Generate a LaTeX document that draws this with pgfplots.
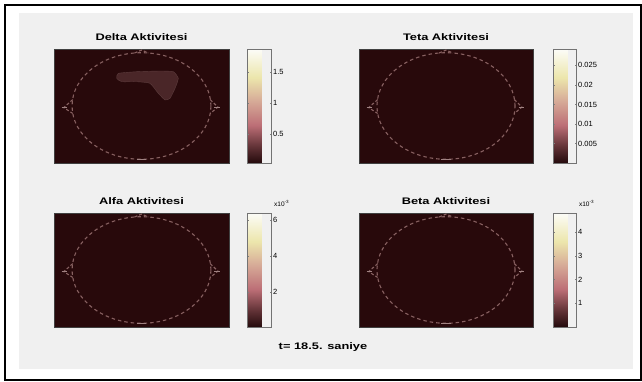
\documentclass[border=0pt]{standalone}
\usepackage{pgfplots}
\pgfplotsset{compat=1.18}
\usepackage{fontspec}
\setmainfont{Liberation Sans}
\newfontfamily\titlefont[FakeStretch=1.35]{Liberation Sans}
\definecolor{figbg}{RGB}{240,240,240}
\definecolor{mapbg}{RGB}{40,9,11}
\definecolor{headc}{RGB}{135,96,96}
\definecolor{headl}{RGB}{160,130,130}
\definecolor{blobc}{RGB}{74,38,40}
\pgfplotsset{
  colormap={pinkmap}{rgb255(0cm)=(36,10,12); rgb255(15cm)=(100,52,56); rgb255(33cm)=(188,110,118); rgb255(55cm)=(215,172,152); rgb255(75cm)=(236,230,172); rgb255(100cm)=(252,252,248)},
  topo/.style={
    scale only axis, height=114pt, anchor=north west,
    xmin=-1.26, xmax=1.26, ymin=-1.07, ymax=1.07,
    ticks=none,
    axis line style={draw=black!75, line width=0.5pt},
    axis background/.style={fill=mapbg},
    title style={font=\titlefont\bfseries\fontsize{9.5}{10}\selectfont, yshift=-1pt},
    colormap name=pinkmap,
    colorbar,
    colorbar style={
      at={(parent axis.north east)}, anchor=north west,
      scale only axis, height=114pt,
      scaled y ticks=false,
      major tick length=1.5pt, tick align=inside,
      tick style={draw=black!50, line width=0.3pt},
      axis line style={draw=black!55, line width=0.7pt},
      yticklabel style={font=\fontsize{7.5}{8}\selectfont, inner sep=1.5pt},
    },
  },
  expo/.style={colorbar style={extra description/.code={
      \node[anchor=base west, inner sep=0pt, font=\fontsize{6.5}{7}\selectfont] at (1.1,1.06) {x10\textsuperscript{-3}};}}},
}
\newcommand{\headoutline}{%
  \draw[headc, line width=1.1pt, dash pattern=on 3.5pt off 3pt] (axis cs:0,0) ellipse [x radius=1, y radius=1];
  \draw[headc, line width=1.1pt, dash pattern=on 3pt off 2pt] (axis cs:-0.1,0.995) -- (axis cs:0,1.05) -- (axis cs:0.1,0.995);
  \draw[headc, line width=1.1pt, dash pattern=on 3pt off 2pt] (axis cs:-0.99,0.12) -- (axis cs:-1.12,-0.03) -- (axis cs:-0.99,-0.14);
  \draw[headc, line width=1.1pt, dash pattern=on 3pt off 2pt] (axis cs:0.99,0.12) -- (axis cs:1.1,-0.02) -- (axis cs:0.99,-0.14);
  \draw[headl, line width=1.2pt] (axis cs:-0.07,-1.0) -- (axis cs:0.07,-1.0);
  \draw[headl, line width=1pt] (axis cs:-1.15,-0.03) -- (axis cs:-1.07,-0.03);
  \draw[headl, line width=1pt] (axis cs:1.05,-0.02) -- (axis cs:1.13,-0.02);
}
\begin{document}
\begin{tikzpicture}[x=1pt,y=1pt]
\fill[white] (0,0) rectangle (642,-381);
\fill[figbg] (19,-13) rectangle (633,-369);
\draw[line width=2pt] (5,-380) -- (5,-5) -- (640.5,-5) -- (640.5,-380) -- cycle;

% Delta
\begin{axis}[topo, at={(54pt,-49pt)}, width=175pt,
  title={Delta Aktivitesi},
  point meta min=0.03, point meta max=1.87,
  colorbar style={xshift=10pt, width=24pt, ytick={0.5,1,1.5}, yticklabels={0.5,1,1.5}}]
\addplot[fill=blobc, draw=blobc!90!white, line width=0.4pt, smooth cycle, tension=0.3] coordinates {
 (-0.334,0.613) (-0.069,0.644) (0.267,0.657) (0.458,0.644) (0.530,0.520)
 (0.483,0.332) (0.411,0.145) (0.339,0.113) (0.242,0.238) (0.122,0.426)
 (-0.069,0.456) (-0.285,0.456) (-0.357,0.520)};
\headoutline
\end{axis}

% Teta
\begin{axis}[topo, at={(359pt,-49pt)}, width=174pt,
  title={Teta Aktivitesi},
  point meta min=0, point meta max=0.0292,
  colorbar style={xshift=12pt, width=23pt, ytick={0.005,0.01,0.015,0.02,0.025}, yticklabels={0.005,0.01,0.015,0.02,0.025}}]
\headoutline
\end{axis}

% Alfa
\begin{axis}[topo, expo, at={(54pt,-213pt)}, width=175pt,
  title={Alfa Aktivitesi},
  point meta min=0.06, point meta max=6.4,
  colorbar style={xshift=10pt, width=24pt, ytick={2,4,6}, yticklabels={2,4,6}}]
\headoutline
\end{axis}

% Beta
\begin{axis}[topo, expo, at={(359pt,-213pt)}, width=174pt,
  title={Beta Aktivitesi},
  point meta min=0, point meta max=4.8,
  colorbar style={xshift=12pt, width=23pt, ytick={1,2,3,4}, yticklabels={1,2,3,4}}]
\headoutline
\end{axis}

\node[font=\titlefont\bfseries\fontsize{9.5}{10}\selectfont] at (323,-347) {t= 18.5. saniye};

\pgfresetboundingbox
\path[use as bounding box] (0,0) rectangle (642,-381);
\end{tikzpicture}
\end{document}
